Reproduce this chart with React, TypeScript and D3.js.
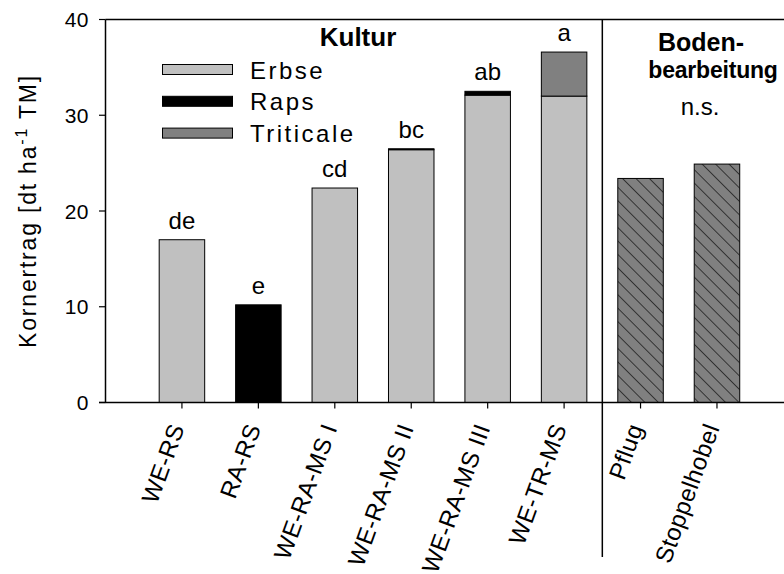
import React, { useEffect, useRef } from "react";
import * as d3 from "d3";

// rotations (Kultur)
const categories = ["WE-RS", "RA-RS", "WE-RA-MS I", "WE-RA-MS II", "WE-RA-MS III", "WE-TR-MS"];
const erbse = [17.0, 0, 22.4, 26.4, 32.1, 32.0];
const raps = [0, 10.2, 0, 0.1, 0.4, 0];
const triticale = [0, 0, 0, 0, 0, 4.6];
const letters = ["de", "e", "cd", "bc", "ab", "a"];

// soil tillage (Bodenbearbeitung)
const tillage = ["Pflug", "Stoppelhobel"];
const tillageValues = [23.4, 24.9];

const yTicks = [0, 10, 20, 30, 40];
const legendItems = ["Erbse", "Raps", "Triticale"];
const legendColors = ["#c0c0c0", "#000000", "#808080"];

const App = () => {
  const svgRef = useRef<SVGSVGElement | null>(null);
  const w = 784;
  const h = 574;

  useEffect(() => {
    d3.select(svgRef.current).selectAll("*").remove();
    const svg = d3.select(svgRef.current);

    const font = "Arial, 'Liberation Sans', sans-serif";

    // slot positions: 1..6 for Kultur, 7..8 for Bodenbearbeitung, divider at 6.5
    const x = d3.scaleLinear().domain([0, 8.89]).range([105.5, 785]);
    const y = d3.scaleLinear().domain([0, 40]).range([402.5, 19.5]);
    const barW = 45.5;

    const defs = svg.append("defs");
    const pat = defs
      .append("pattern")
      .attr("id", "hatch")
      .attr("patternUnits", "userSpaceOnUse")
      .attr("width", 9.5)
      .attr("height", 9.5)
      .attr("patternTransform", "rotate(-45)");
    pat.append("rect").attr("width", 9.5).attr("height", 9.5).attr("fill", "#808080");
    pat.append("line").attr("x1", 0).attr("x2", 0).attr("y1", 0).attr("y2", 9.5)
      .attr("stroke", "#000").attr("stroke-width", 1.2);

    // stacked bars
    const stack = categories.map((c, i) => ({
      cat: c,
      pos: i + 1,
      parts: [
        { v0: 0, v1: erbse[i], color: legendColors[0] },
        { v0: erbse[i], v1: erbse[i] + raps[i], color: legendColors[1] },
        { v0: erbse[i] + raps[i], v1: erbse[i] + raps[i] + triticale[i], color: legendColors[2] },
      ].filter((p) => p.v1 > p.v0),
    }));

    stack.forEach((s) => {
      svg.selectAll(null)
        .data(s.parts)
        .enter()
        .append("rect")
        .attr("x", x(s.pos) - barW / 2)
        .attr("width", barW)
        .attr("y", (d) => y(d.v1))
        .attr("height", (d) => y(d.v0) - y(d.v1))
        .attr("fill", (d) => d.color)
        .attr("stroke", "#000")
        .attr("stroke-width", 1);
    });

    // tillage bars (hatched)
    svg.selectAll(".till")
      .data(tillageValues)
      .enter()
      .append("rect")
      .attr("class", "till")
      .attr("x", (d, i) => x(7 + i) - barW / 2)
      .attr("width", barW)
      .attr("y", (d) => y(d))
      .attr("height", (d) => y(0) - y(d))
      .attr("fill", "url(#hatch)")
      .attr("stroke", "#000")
      .attr("stroke-width", 1);

    // significance letters
    svg.selectAll(".sig")
      .data(letters)
      .enter()
      .append("text")
      .attr("x", (d, i) => x(i + 1))
      .attr("y", (d, i) => y(erbse[i] + raps[i] + triticale[i]) - 11)
      .attr("text-anchor", "middle")
      .style("font-family", font)
      .style("font-size", "24px")
      .text((d) => d);

    // frame / axes
    svg.append("line").attr("x1", 105.5).attr("x2", w).attr("y1", y(40)).attr("y2", y(40))
      .attr("stroke", "#000").attr("stroke-width", 1.5);
    svg.append("line").attr("x1", 105.5).attr("x2", 105.5).attr("y1", y(40)).attr("y2", y(0))
      .attr("stroke", "#000").attr("stroke-width", 1.5);
    svg.append("line").attr("x1", 99).attr("x2", w).attr("y1", y(0)).attr("y2", y(0))
      .attr("stroke", "#000").attr("stroke-width", 1.5);
    svg.append("line").attr("x1", x(6.5)).attr("x2", x(6.5)).attr("y1", y(40)).attr("y2", 557)
      .attr("stroke", "#000").attr("stroke-width", 1.5);

    // y ticks
    const yAxis = svg.append("g");
    yTicks.forEach((t) => {
      yAxis.append("line").attr("x1", 99).attr("x2", 105.5).attr("y1", y(t)).attr("y2", y(t))
        .attr("stroke", "#000").attr("stroke-width", 1.2);
      yAxis.append("text")
        .attr("x", 89)
        .attr("y", y(t) + 7.5)
        .attr("text-anchor", "end")
        .style("font-family", font)
        .style("font-size", "21px")
        .style("letter-spacing", "0.5px")
        .text(t);
    });

    // y label
    const yl = svg.append("text")
      .attr("transform", `translate(36, ${(y(0) + y(40)) / 2}) rotate(-90)`)
      .attr("text-anchor", "middle")
      .style("font-family", font)
      .style("font-size", "23px")
      .style("letter-spacing", "1.8px");
    yl.append("tspan").text("Kornertrag [dt ha");
    yl.append("tspan").attr("dy", -9).style("font-size", "16px").text("-1");
    yl.append("tspan").attr("dy", 9).text(" TM]");

    // x ticks + rotated labels
    const allLabels = categories.concat(tillage);
    allLabels.forEach((lab, i) => {
      const px = x(i + 1);
      svg.append("line").attr("x1", px).attr("x2", px).attr("y1", y(0)).attr("y2", y(0) + 6)
        .attr("stroke", "#000").attr("stroke-width", 1.2);
      svg.append("text")
        .attr("transform", `translate(${px + 3}, ${y(0) + 25}) rotate(-70)`)
        .attr("text-anchor", "end")
        .style("font-family", font)
        .style("font-size", "24px")
        .style("letter-spacing", "0.5px")
        .text(lab);
    });

    // legend
    const lg = svg.append("g");
    legendItems.forEach((item, i) => {
      const ly = 64.5 + i * 31.8;
      lg.append("rect").attr("x", 162.5).attr("y", ly).attr("width", 70).attr("height", 10)
        .attr("fill", legendColors[i]).attr("stroke", "#000").attr("stroke-width", 1);
      lg.append("text")
        .attr("x", 250)
        .attr("y", ly + 14)
        .style("font-family", font)
        .style("font-size", "24px")
        .style("letter-spacing", "2.5px")
        .text(item);
    });

    // headings
    svg.append("text").attr("x", 358).attr("y", 46).attr("text-anchor", "middle")
      .style("font-family", font).style("font-size", "26px").style("font-weight", "bold")
      .text("Kultur");
    svg.append("text").attr("x", 701).attr("y", 51).attr("text-anchor", "middle")
      .style("font-family", font).style("font-size", "25px").style("font-weight", "bold")
      .text("Boden-");
    svg.append("text").attr("x", 713).attr("y", 78).attr("text-anchor", "middle")
      .style("font-family", font).style("font-size", "23px").style("font-weight", "bold")
      .style("letter-spacing", "-0.2px")
      .text("bearbeitung");
    svg.append("text").attr("x", 700).attr("y", 115).attr("text-anchor", "middle")
      .style("font-family", font).style("font-size", "24px")
      .text("n.s.");
  }, []);

  return (
    <svg
      ref={svgRef}
      width={w}
      height={h}
      viewBox={`0 0 ${w} ${h}`}
      style={{ position: "absolute", left: 0, top: 0, background: "#fff" }}
    ></svg>
  );
};

export default App;
